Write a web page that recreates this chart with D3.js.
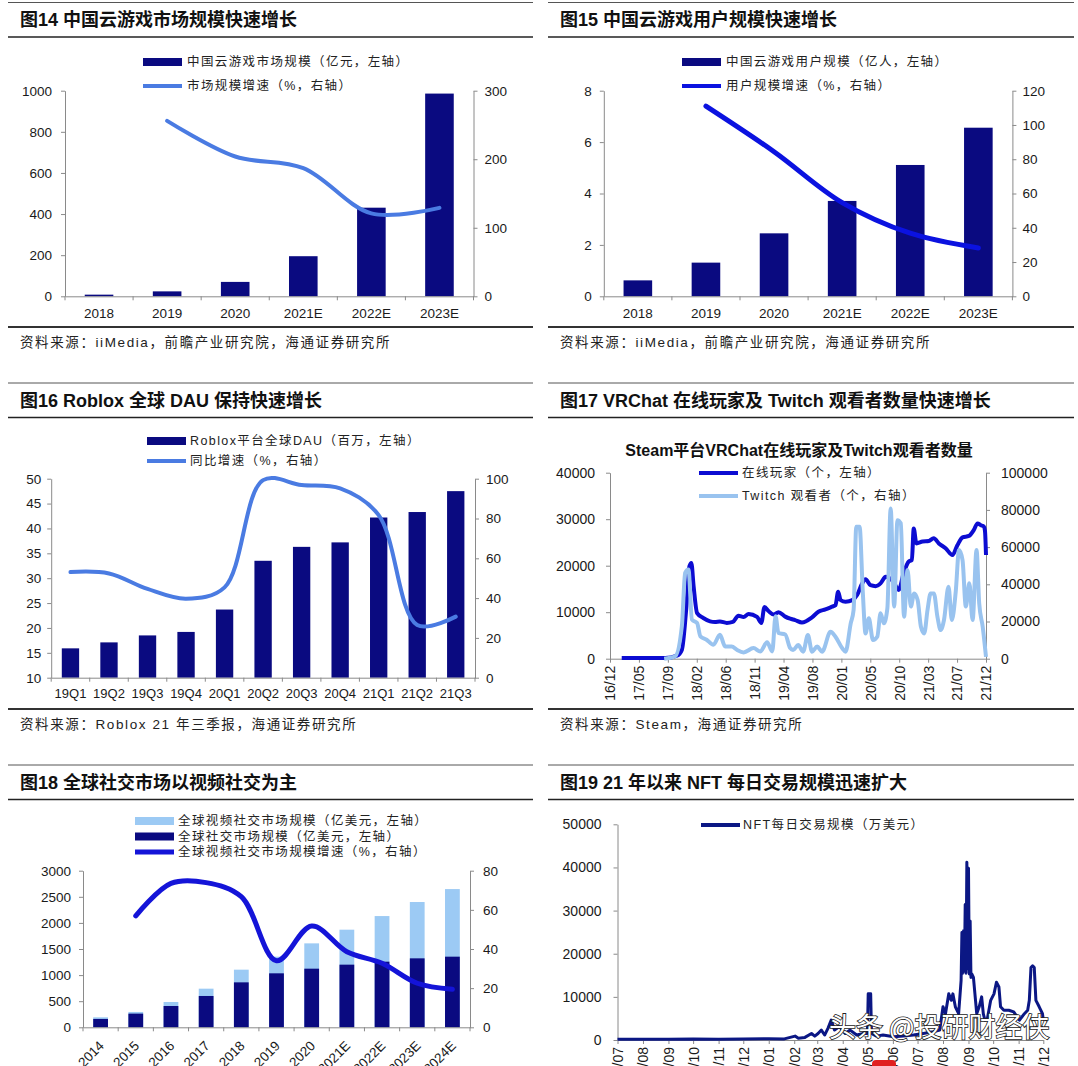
<!DOCTYPE html>
<html><head><meta charset="utf-8">
<script src="https://cdn.jsdelivr.net/npm/d3@7"></script>
<style>
body{margin:0;background:#fff;}
svg{display:block;}
</style></head><body>
<svg id="c" width="1078" height="1066"></svg>
<script>
// ================= DATA =================
const years6 = ["2018","2019","2020","2021E","2022E","2023E"];
const cloudMarket = [8, 24, 70, 195, 431, 986];
const cloudMarketGrowth = [null, 256, 204, 187, 121, 129];
const cloudUsers = [0.62, 1.31, 2.45, 3.71, 5.11, 6.56];
const cloudUsersGrowth = [null, 111, 84.4, 54.7, 36.8, 28.2];

const quarters = ["19Q1","19Q2","19Q3","19Q4","20Q1","20Q2","20Q3","20Q4","21Q1","21Q2","21Q3"];
const robloxDAU = [15.9, 17.1, 18.5, 19.2, 23.7, 33.5, 36.3, 37.2, 42.2, 43.3, 47.5];
const robloxGrowth = [53.1, 52.4, 44.6, 39.7, 45.4, 99.3, 96.8, 95.1, 81.7, 26.5, 30.7];

const vrTickLabels = ["16/12","17/05","17/09","18/02","18/06","18/11","19/04","19/08","20/01","20/05","20/10","21/03","21/07","21/12"];
const vrOnline = [
 ["2017-02-08",140],["2017-09-07",140],["2017-11-03",650],["2017-11-27",1900],["2017-12-18",10600],
 ["2018-01-03",19900],["2018-01-12",20600],["2018-01-23",15600],["2018-02-09",9800],["2018-03-11",8760],
 ["2018-04-13",8040],["2018-05-07",7900],["2018-05-31",8000],["2018-07-03",7700],["2018-08-01",7900],
 ["2018-08-29",9260],["2018-09-23",8980],["2018-10-17",9600],["2018-11-27",8980],["2018-12-18",7700],
 ["2019-01-02",11100],["2019-01-23",10200],["2019-02-17",9500],["2019-03-11",10000],["2019-04-13",9050],
 ["2019-05-07",8600],["2019-05-31",8300],["2019-07-03",7800],["2019-08-21",8900],["2019-09-21",10100],
 ["2019-10-25",10600],["2019-11-27",11200],["2019-12-13",11500],["2019-12-26",14400],["2020-01-07",12600],
 ["2020-01-31",12250],["2020-03-04",12600],["2020-03-27",13700],["2020-04-21",16200],["2020-05-07",17100],
 ["2020-05-31",15800],["2020-06-25",15600],["2020-07-19",16200],["2020-08-13",17600],["2020-09-20",16500],
 ["2020-10-15",14800],["2020-11-08",18400],["2020-12-03",20900],["2020-12-18",21200],["2020-12-27",28000],
 ["2021-01-09",24800],["2021-02-08",25200],["2021-03-10",25300],["2021-04-03",25900],["2021-04-28",24800],
 ["2021-06-01",23700],["2021-07-03",22300],["2021-07-27",24400],["2021-08-21",26100],["2021-09-21",26400],
 ["2021-10-15",27700],["2021-11-02",29100],["2021-11-18",28700],["2021-12-03",28400],["2021-12-08",27500],
 ["2021-12-13",22300]
];
const twitchViewers = [
 ["2017-09-02",0],["2017-10-25",1200],["2017-11-27",17400],["2017-12-13",46100],["2017-12-29",47900],
 ["2018-01-15",21000],["2018-02-09",19200],["2018-02-25",12000],["2018-03-27",10200],["2018-04-29",7500],
 ["2018-05-31",12900],["2018-06-25",6600],["2018-07-27",6600],["2018-08-21",4800],["2018-09-23",3400],
 ["2018-11-10",5700],["2018-12-13",3900],["2019-01-15",8800],["2019-02-09",3900],["2019-02-25",22800],
 ["2019-03-11",13800],["2019-04-13",13000],["2019-05-07",5700],["2019-05-21",4700],["2019-06-15",7300],
 ["2019-07-09",3800],["2019-08-01",12700],["2019-08-21",3800],["2019-09-15",6500],["2019-10-09",3800],
 ["2019-11-19",14500],["2019-12-13",11800],["2020-01-15",5600],["2020-01-31",3800],["2020-02-25",19000],
 ["2020-03-10",26200],["2020-03-23",71000],["2020-04-08",71000],["2020-04-24",35100],["2020-05-07",13600],
 ["2020-05-23",21700],["2020-06-12",10000],["2020-07-03",11800],["2020-07-19",24400],["2020-08-04",19000],
 ["2020-08-21",27100],["2020-09-06",80800],["2020-09-23",28000],["2020-10-09",74500],["2020-10-25",72800],
 ["2020-11-10",22600],["2020-11-27",47700],["2020-12-13",28000],["2020-12-29",35100],["2021-01-15",31500],
 ["2021-01-31",17200],["2021-02-16",13600],["2021-03-04",26200],["2021-03-19",35100],["2021-04-04",35100],
 ["2021-04-21",22600],["2021-05-07",15400],["2021-05-23",20800],["2021-06-14",38700],["2021-06-30",20800],
 ["2021-07-19",36000],["2021-08-04",58400],["2021-08-21",53000],["2021-09-06",28000],["2021-09-23",40500],
 ["2021-10-09",20800],["2021-10-28",58400],["2021-11-10",29700],["2021-11-27",17200],["2021-12-13",1000]
];

const years11 = ["2014","2015","2016","2017","2018","2019","2020","2021E","2022E","2023E","2024E"];
const videoSocialMarket = [191, 294, 485, 740, 1104, 1353, 1608, 1870, 2131, 2400, 2648];
const socialMarket = [160, 262, 408, 600, 861, 1034, 1123, 1200, 1257, 1321, 1353];
const videoSocialGrowth = [null, 56.9, 73.5, 73.9, 66.7, 34.0, 51.7, 38.6, 32.7, 22.5, 19.4];

const nftDaily = [
 ["2020-07-01",150],["2020-08-01",200],["2020-09-01",150],["2020-10-01",250],["2020-11-01",200],
 ["2020-12-01",250],["2021-01-01",300],["2021-01-20",250],["2021-02-02",900],["2021-02-06",400],
 ["2021-02-14",600],["2021-02-22",1500],["2021-02-26",900],["2021-03-02",1500],["2021-03-06",2300],
 ["2021-03-10",1150],["2021-03-14",2700],["2021-03-18",4600],["2021-03-22",2300],["2021-03-28",3100],
 ["2021-04-04",1500],["2021-04-10",2300],["2021-04-18",1150],["2021-04-26",1500],["2021-05-01",1500],
 ["2021-05-02",10700],["2021-05-05",10700],["2021-05-06",1500],["2021-05-12",900],["2021-05-20",1150],
 ["2021-06-02",770],["2021-06-14",900],["2021-06-26",1150],["2021-07-08",1500],["2021-07-20",1900],
 ["2021-07-28",2300],["2021-08-01",7700],["2021-08-04",6100],["2021-08-08",10700],["2021-08-11",9200],
 ["2021-08-13",10700],["2021-08-16",7700],["2021-08-20",6100],["2021-08-23",13800],["2021-08-24",24900],
 ["2021-08-25",15500],["2021-08-26",25300],["2021-08-27",16000],["2021-08-28",31400],["2021-08-29",15500],
 ["2021-08-30",41200],["2021-08-31",16500],["2021-09-01",39800],["2021-09-02",15300],["2021-09-03",27600],
 ["2021-09-04",14500],["2021-09-05",15300],["2021-09-07",14500],["2021-09-11",6100],["2021-09-14",7700],
 ["2021-09-17",10000],["2021-09-19",6100],["2021-09-21",4600],["2021-09-24",5000],["2021-09-28",9200],
 ["2021-10-02",10700],["2021-10-05",13400],["2021-10-08",12300],["2021-10-10",7700],["2021-10-14",6900],
 ["2021-10-20",6900],["2021-10-26",6500],["2021-11-02",4600],["2021-11-08",6100],["2021-11-12",6900],
 ["2021-11-14",9200],["2021-11-16",16800],["2021-11-18",17200],["2021-11-20",16800],["2021-11-22",9200],
 ["2021-11-26",7700],["2021-11-30",6100],["2021-12-01",4600]
];

// ================= DRAWING =================
const FONT = '"Liberation Sans", Arial, "Noto Sans CJK SC", sans-serif';
const NAVY = "#0a0a80";
const svg = d3.select("#c").attr("font-family", FONT);
const parse = d3.timeParse("%Y-%m-%d");
const fmt = d3.format("d");

function frame(x0, x1, yTop, title, tx) {
  svg.append("line").attr("x1", x0).attr("x2", x1).attr("y1", yTop).attr("y2", yTop)
    .attr("stroke", "#555").attr("stroke-width", 1);
  svg.append("text").attr("x", tx).attr("y", yTop + 17.5).attr("dy", "0.35em")
    .attr("font-size", 18).attr("font-weight", "bold").attr("fill", "#111").text(title);
  svg.append("line").attr("x1", x0).attr("x2", x1).attr("y1", yTop + 34.5).attr("y2", yTop + 34.5)
    .attr("stroke", "#222").attr("stroke-width", 1.5);
}
function source(x0, x1, y, tx, text) {
  svg.append("line").attr("x1", x0).attr("x2", x1).attr("y1", y).attr("y2", y)
    .attr("stroke", "#333").attr("stroke-width", 2);
  svg.append("text").attr("x", tx).attr("y", y + 15.5).attr("dy", "0.35em")
    .attr("font-size", 13.5).attr("letter-spacing", 1.6).attr("fill", "#222").text(text);
}
function legend(items, x, textX) {
  items.forEach(it => {
    if (it.type === "bar") {
      svg.append("rect").attr("x", x).attr("y", it.y - 4).attr("width", 39).attr("height", 8).attr("fill", it.color);
    } else {
      svg.append("line").attr("x1", x).attr("x2", x + 39).attr("y1", it.y).attr("y2", it.y)
        .attr("stroke", it.color).attr("stroke-width", it.w || 4);
    }
    svg.append("text").attr("x", textX).attr("y", it.y).attr("dy", "0.35em")
      .attr("font-size", 12.5).attr("letter-spacing", 1.4).attr("fill", "#222").text(it.text);
  });
}
function styleAxis(g, fs) {
  g.attr("font-family", null).attr("font-size", fs);
  g.select(".domain").attr("stroke", "#8a8a8a");
  g.selectAll(".tick line").attr("stroke", "#8a8a8a");
  g.selectAll(".tick text").attr("fill", "#1a1a1a");
}

function combo(o) {
  const x = d3.scaleBand().domain(o.cats).range([o.xL, o.xR]);
  const yL = d3.scaleLinear().domain(o.lDomain).range([o.yB, o.yT]);
  const yR = d3.scaleLinear().domain(o.rDomain).range([o.yB, o.yT]);
  const bw = x.bandwidth() * o.barFrac;
  o.bars.forEach(b => {
    svg.append("g").selectAll("rect").data(o.cats).join("rect")
      .attr("x", c => x(c) + (x.bandwidth() - bw) / 2).attr("width", bw)
      .attr("y", (c, i) => yL(b.values[i]))
      .attr("height", (c, i) => yL(o.lDomain[0]) - yL(b.values[i]))
      .attr("fill", b.color);
  });
  const gl = svg.append("g").attr("transform", `translate(${o.xL},0)`)
    .call(d3.axisLeft(yL).tickValues(o.lTicks).tickFormat(fmt).tickSize(4).tickSizeOuter(0).tickPadding(o.lPad));
  styleAxis(gl, o.fs);
  const gr = svg.append("g").attr("transform", `translate(${o.xR},0)`)
    .call(d3.axisRight(yR).tickValues(o.rTicks).tickFormat(fmt).tickSize(4).tickSizeOuter(0).tickPadding(o.rPad));
  styleAxis(gr, o.fs);
  const gb = svg.append("g").attr("transform", `translate(0,${o.yB})`)
    .call(d3.axisBottom(x).tickSize(0).tickSizeOuter(0).tickPadding(o.xPad));
  styleAxis(gb, o.xfs || o.fs);
  const bounds = o.cats.map(c => x(c)).concat([o.xR]);
  svg.append("g").selectAll("line").data(bounds).join("line")
    .attr("x1", d => d).attr("x2", d => d).attr("y1", o.yB).attr("y2", o.yB + 4).attr("stroke", "#8a8a8a");
  if (o.rotate) {
    gb.selectAll(".tick text").attr("y", 0).attr("x", 0).attr("dy", "0.35em")
      .attr("transform", "translate(1,16) rotate(-45)").style("text-anchor", "end");
  }
  const pts = o.cats.map((c, i) => [x(c) + x.bandwidth() / 2, o.line.values[i]]).filter(p => p[1] != null);
  svg.append("path").datum(pts)
    .attr("d", d3.line().x(p => p[0]).y(p => yR(p[1])).curve(d3.curveCatmullRom.alpha(0.5)))
    .attr("fill", "none").attr("stroke", o.line.color).attr("stroke-width", o.line.w)
    .attr("stroke-linecap", "round").attr("stroke-linejoin", "round");
}

// ---------- Panel 14 ----------
frame(8, 533, 2.5, "图14 中国云游戏市场规模快速增长", 20);
legend([
  {type: "bar", color: NAVY, y: 62, text: "中国云游戏市场规模（亿元，左轴）"},
  {type: "line", color: "#4a7be2", y: 86, text: "市场规模增速（%，右轴）"}
], 143, 187);
combo({cats: years6, xL: 65, xR: 473.5, yT: 90.7, yB: 296.3,
  lDomain: [0, 1000], lTicks: d3.range(0, 1001, 200), rDomain: [0, 300], rTicks: d3.range(0, 301, 100),
  bars: [{values: cloudMarket, color: NAVY}], line: {values: cloudMarketGrowth, color: "#4a7be2", w: 4},
  barFrac: 0.42, lPad: 9, rPad: 7, xPad: 12, fs: 13.5});
source(8, 533, 327, 20, "资料来源：iiMedia，前瞻产业研究院，海通证券研究所");

// ---------- Panel 15 ----------
frame(548, 1074, 2.5, "图15 中国云游戏用户规模快速增长", 560);
legend([
  {type: "bar", color: NAVY, y: 62, text: "中国云游戏用户规模（亿人，左轴）"},
  {type: "line", color: "#0b12e0", y: 86, text: "用户规模增速（%，右轴）"}
], 682, 726);
combo({cats: years6, xL: 603.8, xR: 1012.4, yT: 90.7, yB: 296.3,
  lDomain: [0, 8], lTicks: d3.range(0, 9, 2), rDomain: [0, 120], rTicks: d3.range(0, 121, 20),
  bars: [{values: cloudUsers, color: NAVY}], line: {values: cloudUsersGrowth, color: "#0b12e0", w: 5},
  barFrac: 0.42, lPad: 8, rPad: 6, xPad: 12, fs: 13.5});
source(548, 1074, 327, 560, "资料来源：iiMedia，前瞻产业研究院，海通证券研究所");

// ---------- Panel 16 ----------
frame(8, 533, 383, "图16 Roblox 全球 DAU 保持快速增长", 20);
legend([
  {type: "bar", color: NAVY, y: 441, text: "Roblox平台全球DAU（百万，左轴）"},
  {type: "line", color: "#4a7be2", y: 461, text: "同比增速（%，右轴）"}
], 147, 190);
combo({cats: quarters, xL: 51.2, xR: 475, yT: 478.7, yB: 677.7,
  lDomain: [10, 50], lTicks: d3.range(10, 51, 5), rDomain: [0, 100], rTicks: d3.range(0, 101, 20),
  bars: [{values: robloxDAU, color: NAVY}], line: {values: robloxGrowth, color: "#4a7be2", w: 4},
  barFrac: 0.45, lPad: 6, rPad: 7, xPad: 11, fs: 13.5, xfs: 13});
source(8, 533, 709, 20, "资料来源：Roblox 21 年三季报，海通证券研究所");

// ---------- Panel 17 ----------
frame(548, 1074, 383, "图17 VRChat 在线玩家及 Twitch 观看者数量快速增长", 560);
svg.append("text").attr("x", 799).attr("y", 450).attr("dy", "0.35em").attr("text-anchor", "middle")
  .attr("font-size", 16).attr("font-weight", "bold").attr("fill", "#111")
  .text("Steam平台VRChat在线玩家及Twitch观看者数量");
{
  const vStart = new Date(2016, 11, 13), vEnd = new Date(2021, 11, 13);
  const x = d3.scaleTime().domain([vStart, vEnd]).range([610, 986]);
  const yL = d3.scaleLinear().domain([0, 40000]).range([658.7, 472.7]);
  const yR = d3.scaleLinear().domain([0, 100000]).range([658.7, 472.7]);
  const tickVals = vrTickLabels.map((l, i) => new Date(+vStart + i * (vEnd - vStart) / 13));
  const gl = svg.append("g").attr("transform", "translate(610,0)")
    .call(d3.axisLeft(yL).tickValues(d3.range(0, 40001, 10000)).tickFormat(fmt).tickSize(4).tickSizeOuter(0).tickPadding(11));
  styleAxis(gl, 14);
  const gr = svg.append("g").attr("transform", "translate(986,0)")
    .call(d3.axisRight(yR).tickValues(d3.range(0, 100001, 20000)).tickFormat(fmt).tickSize(4).tickSizeOuter(0).tickPadding(11));
  styleAxis(gr, 14);
  const gb = svg.append("g").attr("transform", "translate(0,658.7)")
    .call(d3.axisBottom(x).tickValues(tickVals).tickFormat((d, i) => vrTickLabels[i]).tickSize(4).tickSizeOuter(0));
  styleAxis(gb, 14);
  gb.selectAll(".tick text").attr("y", 0).attr("x", -7).attr("dy", "0.35em")
    .attr("transform", "rotate(-90)").style("text-anchor", "end");
  svg.append("path")
    .attr("d", d3.line().curve(d3.curveMonotoneX).x(d => x(parse(d[0]))).y(d => yL(d[1]))(vrOnline))
    .attr("fill", "none").attr("stroke", "#0c0cd2").attr("stroke-width", 4).attr("stroke-linejoin", "round");
  svg.append("path")
    .attr("d", d3.line().curve(d3.curveMonotoneX).x(d => x(parse(d[0]))).y(d => yR(d[1]))(twitchViewers))
    .attr("fill", "none").attr("stroke", "#99c3ef").attr("stroke-width", 4).attr("stroke-linejoin", "round");
  legend([
    {type: "line", color: "#0c0cd2", y: 473, text: "在线玩家（个，左轴）"},
    {type: "line", color: "#99c3ef", y: 496, text: "Twitch 观看者（个，右轴）"}
  ], 699, 742);
}
source(548, 1074, 709, 560, "资料来源：Steam，海通证券研究所");

// ---------- Panel 18 ----------
frame(8, 533, 765, "图18 全球社交市场以视频社交为主", 20);
legend([
  {type: "bar", color: "#9ccaf4", y: 821, text: "全球视频社交市场规模（亿美元，左轴）"},
  {type: "bar", color: NAVY, y: 836.5, text: "全球社交市场规模（亿美元，左轴）"},
  {type: "line", color: "#1414d8", y: 852, w: 5, text: "全球视频社交市场规模增速（%，右轴）"}
], 135, 178);
combo({cats: years11, xL: 83, xR: 470, yT: 870.7, yB: 1027.3,
  lDomain: [0, 3000], lTicks: d3.range(0, 3001, 500), rDomain: [0, 80], rTicks: d3.range(0, 81, 20),
  bars: [{values: videoSocialMarket, color: "#9ccaf4"}, {values: socialMarket, color: NAVY}],
  line: {values: videoSocialGrowth, color: "#1414d8", w: 5},
  barFrac: 0.42, lPad: 8, rPad: 9, xPad: 10, fs: 13.5, rotate: true});

// ---------- Panel 19 ----------
frame(548, 1074, 765, "图19 21 年以来 NFT 每日交易规模迅速扩大", 560);
{
  const x = d3.scaleTime().domain([new Date(2020, 6, 1), new Date(2021, 11, 1)]).range([617.5, 1043.3]);
  const y = d3.scaleLinear().domain([0, 50000]).range([1040, 824.3]);
  const gl = svg.append("g").attr("transform", "translate(617.5,0)")
    .call(d3.axisLeft(y).tickValues(d3.range(0, 50001, 10000)).tickFormat(fmt).tickSize(4).tickSizeOuter(0).tickPadding(12));
  styleAxis(gl, 14);
  const gb = svg.append("g").attr("transform", "translate(0,1040)")
    .call(d3.axisBottom(x).ticks(d3.timeMonth.every(1)).tickFormat(d3.timeFormat("%y/%m")).tickSize(4).tickSizeOuter(0));
  styleAxis(gb, 14);
  gb.selectAll(".tick text").attr("y", 0).attr("x", -7).attr("dy", "0.35em")
    .attr("transform", "rotate(-90)").style("text-anchor", "end");
  svg.append("path")
    .attr("d", d3.line().x(d => x(parse(d[0]))).y(d => y(d[1]))(nftDaily))
    .attr("fill", "none").attr("stroke", "#0b1784").attr("stroke-width", 3).attr("stroke-linejoin", "round");
  legend([{type: "line", color: "#0b1784", y: 825, text: "NFT每日交易规模（万美元）"}], 701, 743);
}
// watermark overlay
svg.append("text").attr("x", 829).attr("y", 1037).attr("font-size", 27)
  .attr("font-family", '"Noto Sans CJK SC", sans-serif')
  .attr("fill", "#fff").attr("stroke", "#222").attr("stroke-width", 1.6).attr("paint-order", "stroke")
  .text("头条 @投研财经侠");
svg.append("rect").attr("x", 872).attr("y", 1060).attr("width", 24).attr("height", 10).attr("rx", 4).attr("fill", "#e02020");
</script>
</body></html>
